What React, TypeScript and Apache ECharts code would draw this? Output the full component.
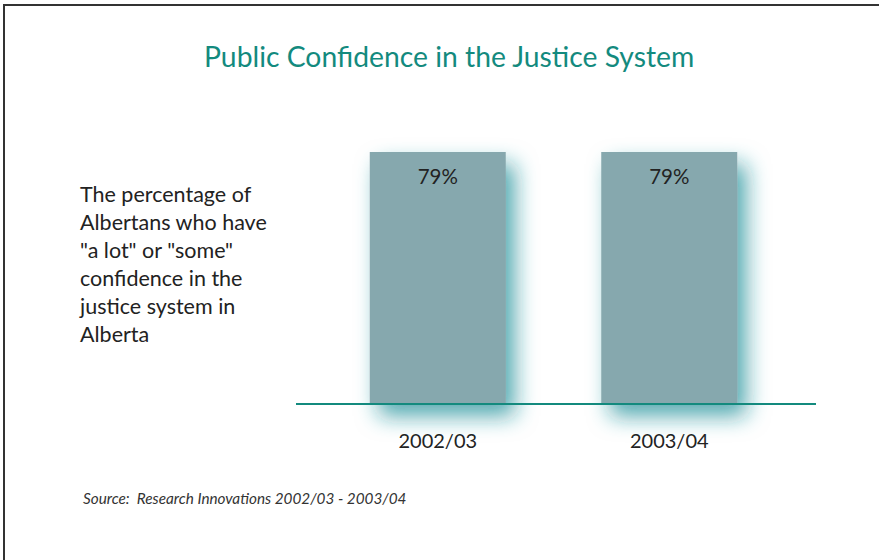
import React, { useEffect, useRef } from "react";
import * as echarts from "echarts";

const titleText = "Public Confidence in the Justice System";
const categories = ["2002/03", "2003/04"];
const confidenceValues = [79, 79];
const sideNoteLines = [
  "The percentage of",
  "Albertans who have",
  '"a lot" or "some"',
  "confidence in the",
  "justice system in",
  "Alberta",
];
const sourceText = "Source:  Research Innovations 2002/03 - 2003/04";

const FONT = "Lato, 'Open Sans', sans-serif";

export default function App() {
  const ref = useRef<HTMLDivElement>(null);
  useEffect(() => {
    if (!ref.current) return;
    const chart = echarts.init(ref.current, undefined, { renderer: "svg" });
    chart.setOption({
      animation: false,
      backgroundColor: "#ffffff",
      title: {
        text: titleText,
        left: 199,
        top: 37,
        textStyle: {
          color: "#138a7e",
          fontSize: 28.3,
          fontWeight: "normal",
          fontFamily: FONT,
        },
      },
      grid: { left: 322, right: 94, top: 85, bottom: 156 },
      xAxis: {
        type: "category",
        data: categories,
        axisLine: { show: false },
        axisTick: { show: false },
        axisLabel: {
          color: "#222",
          fontSize: 20,
          fontFamily: FONT,
          margin: 26,
        },
      },
      yAxis: {
        type: "value",
        min: 0,
        max: 100,
        show: false,
      },
      series: [
        {
          type: "bar",
          data: confidenceValues,
          barWidth: 136,
          itemStyle: {
            color: "#86a8ae",
            shadowColor: "rgba(30,140,150,0.75)",
            shadowBlur: 22,
            shadowOffsetX: 9,
            shadowOffsetY: 12,
          },
          label: {
            show: true,
            position: "insideTop",
            distance: 14,
            formatter: "{c}%",
            color: "#222",
            fontSize: 20.5,
            fontFamily: FONT,
          },
        },
      ],
      graphic: [
        {
          type: "line",
          shape: { x1: 296, y1: 404, x2: 816, y2: 404 },
          style: { stroke: "#138a7e", lineWidth: 2 },
          z: 100,
        },
        {
          type: "text",
          left: 80,
          top: 180,
          style: {
            text: sideNoteLines.join("\n"),
            fill: "#222",
            fontSize: 21.5,
            lineHeight: 28,
            fontFamily: FONT,
          },
        },
        {
          type: "text",
          left: 83,
          top: 490,
          style: {
            text: sourceText,
            fill: "#333",
            fontSize: 15.3,
            fontStyle: "italic",
            fontFamily: FONT,
          },
        },
        {
          type: "polyline",
          shape: { points: [[4, 560], [4, 5], [879, 5]] },
          style: { stroke: "#333", lineWidth: 2, fill: "none" },
        },
      ],
    });
    return () => chart.dispose();
  }, []);
  return (
    <div
      ref={ref}
      style={{ position: "fixed", left: 0, top: 0, width: 879, height: 560 }}
    />
  );
}
